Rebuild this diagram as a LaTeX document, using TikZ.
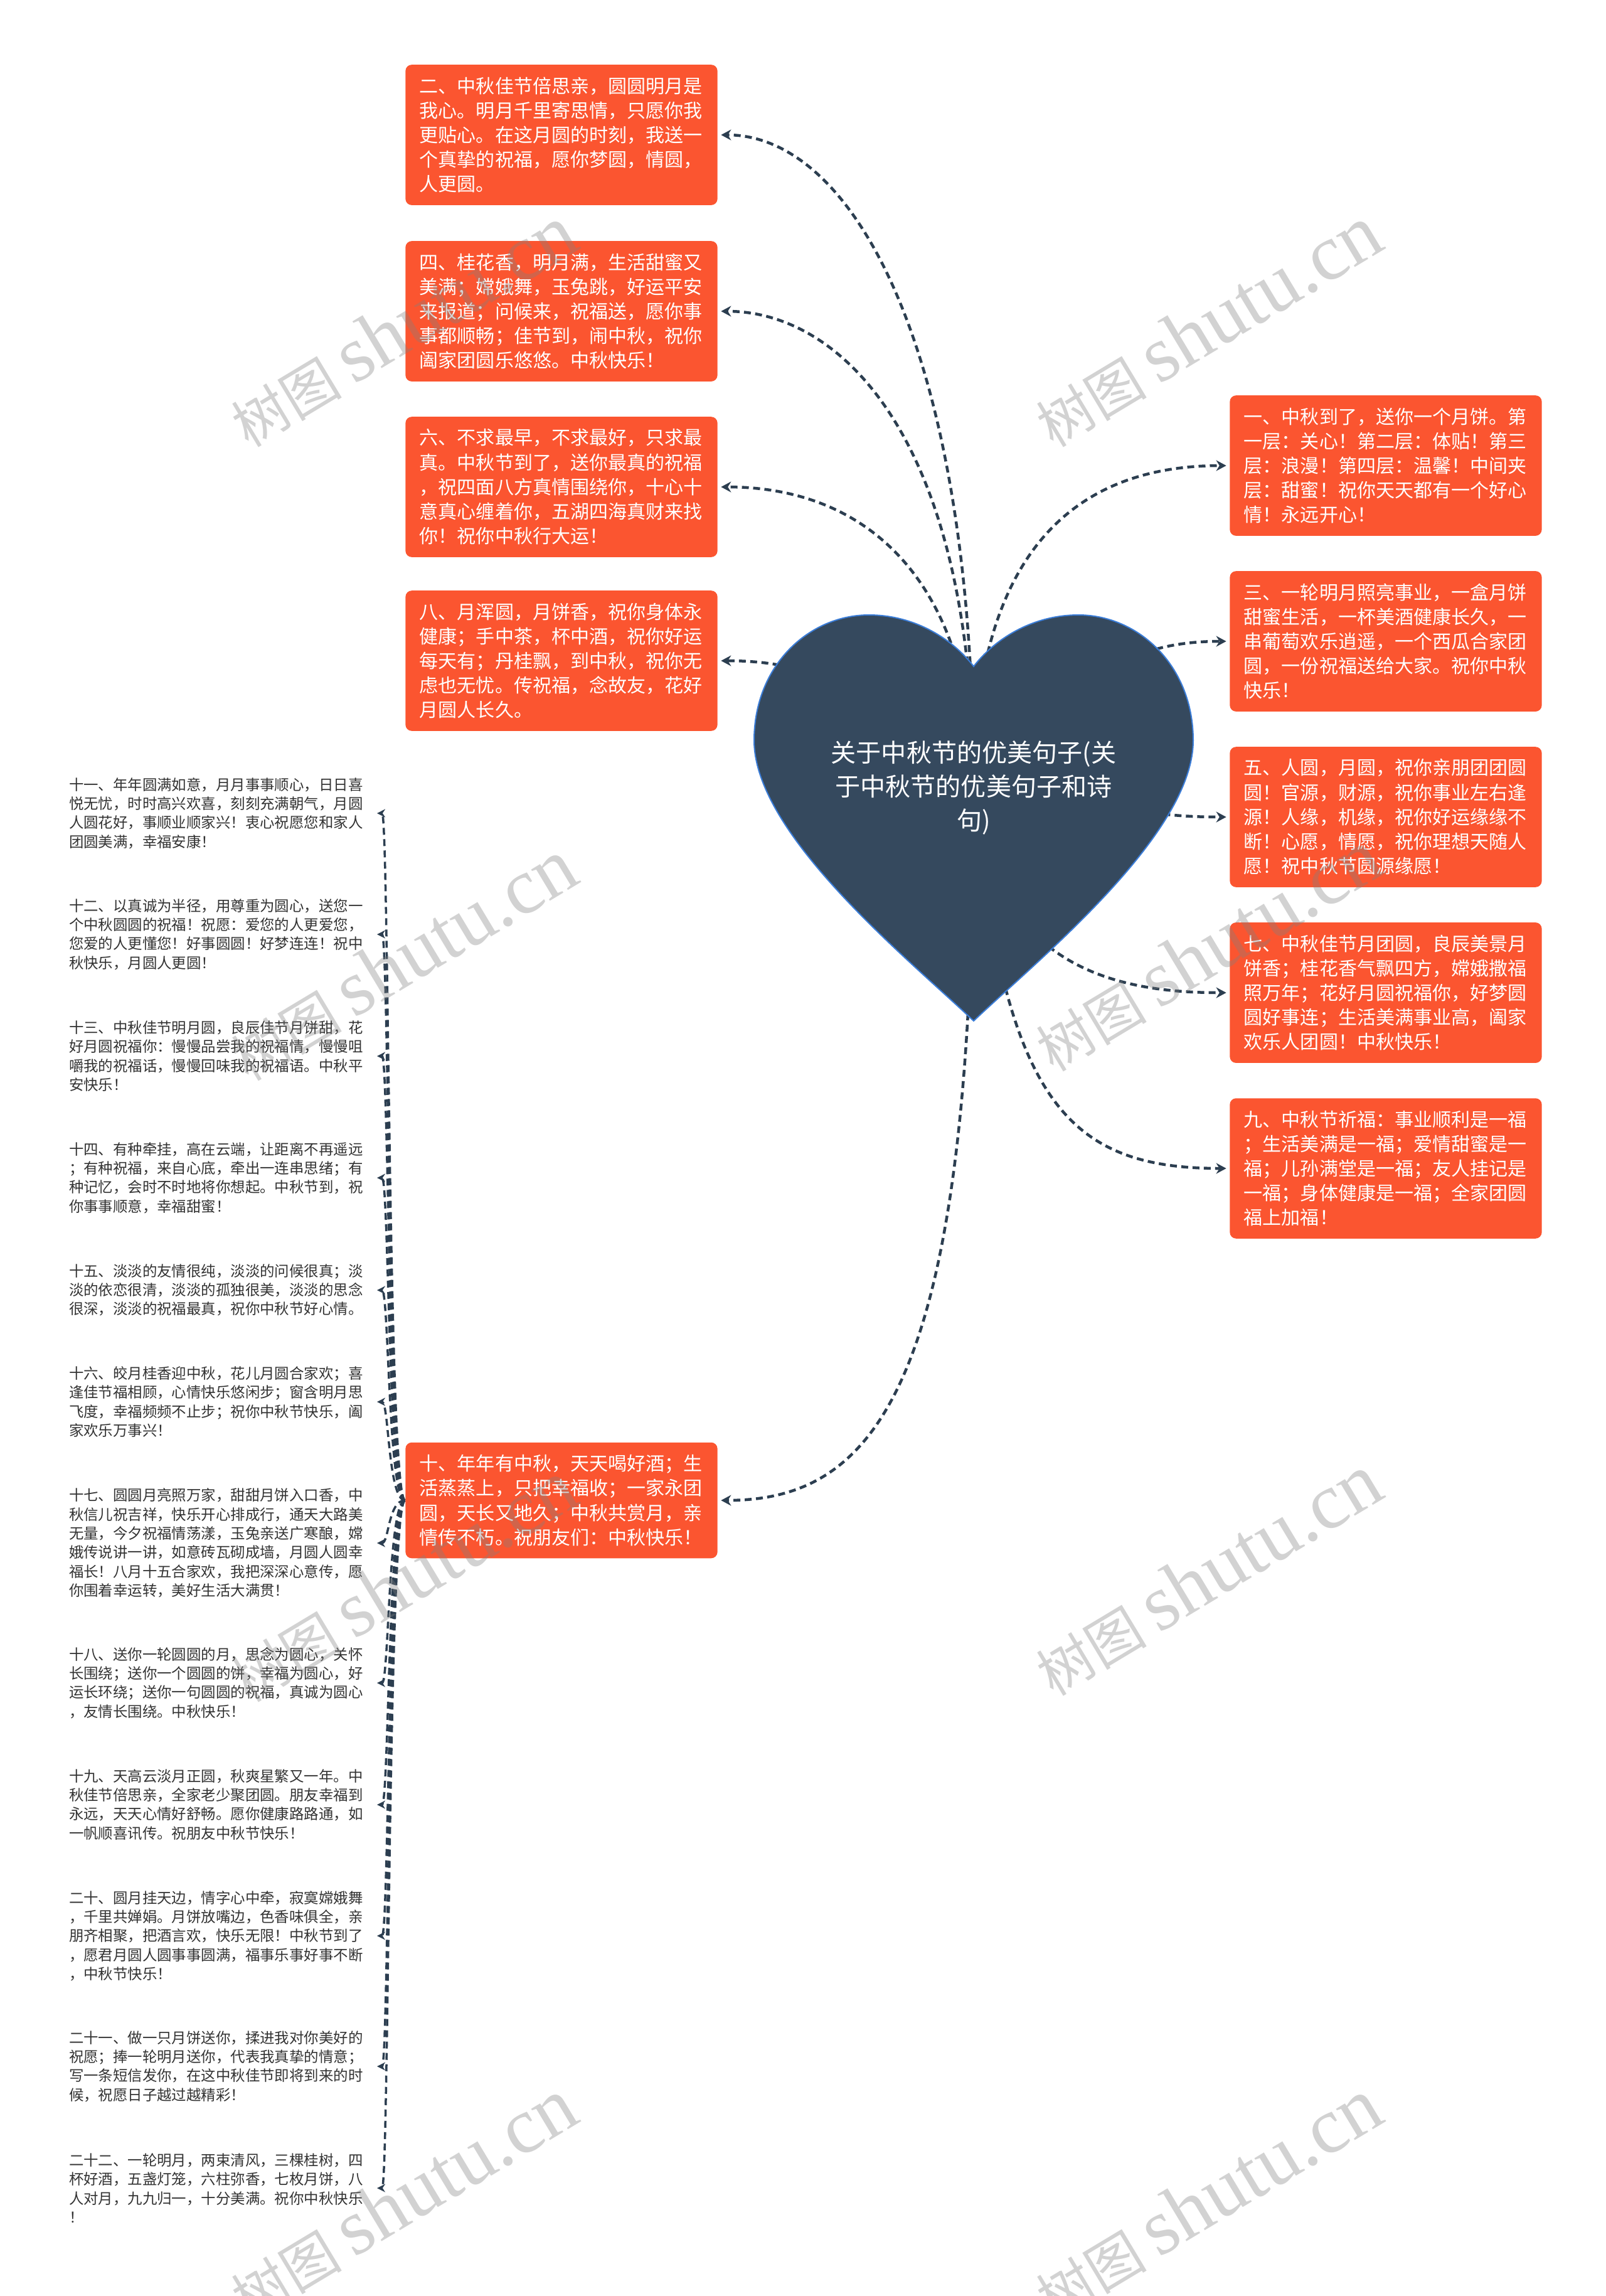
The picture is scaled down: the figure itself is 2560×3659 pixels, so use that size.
\documentclass[tikz,border=0pt]{standalone}
\usepackage{fontspec}
\setmainfont{Noto Sans CJK SC}
\newfontfamily\wmlatin{Liberation Serif}
\usepackage{xcolor}
\usetikzlibrary{arrows.meta}

\definecolor{boxred}{HTML}{FB5530}
\definecolor{slate}{HTML}{35495E}
\definecolor{wire}{HTML}{2C3E50}
\definecolor{heartline}{HTML}{3B7DD8}
\definecolor{leafink}{HTML}{333333}

\pgfdeclarelayer{wires}
\pgfsetlayers{wires,main}

\begin{document}
\begin{tikzpicture}[x=0.01cm, y=-0.01cm,
  wish/.style={fill=boxred, rounded corners=0.1cm, text=white, text width=4.52cm,
    align=left, inner xsep=0.225cm, inner ysep=0.195cm,
    font=\fontsize{8.54pt}{11.15pt}\selectfont},
  leaf/.style={anchor=east, text=leafink, text width=4.70cm, align=left,
    inner xsep=0.15cm, inner ysep=0pt, font=\fontsize{6.66pt}{8.62pt}\selectfont},
  hubtext/.style={text=white, align=center, font=\fontsize{11.4pt}{15.36pt}\selectfont},
  heart/.style={fill=slate, draw=heartline, line width=0.02cm},
  link/.style={draw=wire, line width=0.045cm, dash pattern=on 0.11cm off 0.07cm,
    -{Stealth[length=0.16cm,width=0.17cm]}, shorten >=0.05cm},
  twig/.style={link, line width=0.035cm, -{Stealth[length=0.13cm,width=0.13cm]}},
  wmark/.style={text=gray, opacity=0.35, rotate=31, inner sep=0pt,
    font=\fontsize{25pt}{25pt}\selectfont}]
  \useasboundingbox (0,0) rectangle (2560,3659);

  \node[wish] (b2) at (895,215) {二、中秋佳节倍思亲，圆圆明月是\\我心。明月千里寄思情，只愿你我\\更贴心。在这月圆的时刻，我送一\\个真挚的祝福，愿你梦圆，情圆，\\人更圆。};
  \node[wish] (b4) at (895,496) {四、桂花香，明月满，生活甜蜜又\\美满；嫦娥舞，玉兔跳，好运平安\\来报道；问候来，祝福送，愿你事\\事都顺畅；佳节到，闹中秋，祝你\\阖家团圆乐悠悠。中秋快乐！};
  \node[wish] (b6) at (895,776) {六、不求最早，不求最好，只求最\\真。中秋节到了，送你最真的祝福\\，祝四面八方真情围绕你，十心十\\意真心缠着你，五湖四海真财来找\\你！祝你中秋行大运！};
  \node[wish] (b8) at (895,1053) {八、月浑圆，月饼香，祝你身体永\\健康；手中茶，杯中酒，祝你好运\\每天有；丹桂飘，到中秋，祝你无\\虑也无忧。传祝福，念故友，花好\\月圆人长久。};
  \node[wish] (b10) at (895,2391) {十、年年有中秋，天天喝好酒；生\\活蒸蒸上，只把幸福收；一家永团\\圆，天长又地久；中秋共赏月，亲\\情传不朽。祝朋友们：中秋快乐！};

  \node[wish] (b1) at (2209,742) {一、中秋到了，送你一个月饼。第\\一层：关心！第二层：体贴！第三\\层：浪漫！第四层：温馨！中间夹\\层：甜蜜！祝你天天都有一个好心\\情！永远开心！};
  \node[wish] (b3) at (2209,1022) {三、一轮明月照亮事业，一盒月饼\\甜蜜生活，一杯美酒健康长久，一\\串葡萄欢乐逍遥，一个西瓜合家团\\圆，一份祝福送给大家。祝你中秋\\快乐！};
  \node[wish] (b5) at (2209,1302) {五、人圆，月圆，祝你亲朋团团圆\\圆！官源，财源，祝你事业左右逢\\源！人缘，机缘，祝你好运缘缘不\\断！心愿，情愿，祝你理想天随人\\愿！祝中秋节圆源缘愿！};
  \node[wish] (b7) at (2209,1582) {七、中秋佳节月团圆，良辰美景月\\饼香；桂花香气飘四方，嫦娥撒福\\照万年；花好月圆祝福你，好梦圆\\圆好事连；生活美满事业高，阖家\\欢乐人团圆！中秋快乐！};
  \node[wish] (b9) at (2209,1862) {九、中秋节祈福：事业顺利是一福\\；生活美满是一福；爱情甜蜜是一\\福；儿孙满堂是一福；友人挂记是\\一福；身体健康是一福；全家团圆\\福上加福！};

  \node[leaf] (t11) at (596,1296) {十一、年年圆满如意，月月事事顺心，日日喜\\悦无忧，时时高兴欢喜，刻刻充满朝气，月圆\\人圆花好，事顺业顺家兴！衷心祝愿您和家人\\团圆美满，幸福安康！};
  \node[leaf] (t12) at (596,1489) {十二、以真诚为半径，用尊重为圆心，送您一\\个中秋圆圆的祝福！祝愿：爱您的人更爱您，\\您爱的人更懂您！好事圆圆！好梦连连！祝中\\秋快乐，月圆人更圆！};
  \node[leaf] (t13) at (596,1683) {十三、中秋佳节明月圆，良辰佳节月饼甜，花\\好月圆祝福你：慢慢品尝我的祝福情，慢慢咀\\嚼我的祝福话，慢慢回味我的祝福语。中秋平\\安快乐！};
  \node[leaf] (t14) at (596,1877) {十四、有种牵挂，高在云端，让距离不再遥远\\；有种祝福，来自心底，牵出一连串思绪；有\\种记忆，会时不时地将你想起。中秋节到，祝\\你事事顺意，幸福甜蜜！};
  \node[leaf] (t15) at (596,2056) {十五、淡淡的友情很纯，淡淡的问候很真；淡\\淡的依恋很清，淡淡的孤独很美，淡淡的思念\\很深，淡淡的祝福最真，祝你中秋节好心情。};
  \node[leaf] (t16) at (596,2234) {十六、皎月桂香迎中秋，花儿月圆合家欢；喜\\逢佳节福相顾，心情快乐悠闲步；窗含明月思\\飞度，幸福频频不止步；祝你中秋节快乐，阖\\家欢乐万事兴！};
  \node[leaf] (t17) at (596,2459) {十七、圆圆月亮照万家，甜甜月饼入口香，中\\秋信儿祝吉祥，快乐开心排成行，通天大路美\\无量，今夕祝福情荡漾，玉兔亲送广寒酿，嫦\\娥传说讲一讲，如意砖瓦砌成墙，月圆人圆幸\\福长！八月十五合家欢，我把深深心意传，愿\\你围着幸运转，美好生活大满贯！};
  \node[leaf] (t18) at (596,2682) {十八、送你一轮圆圆的月，思念为圆心，关怀\\长围绕；送你一个圆圆的饼，幸福为圆心，好\\运长环绕；送你一句圆圆的祝福，真诚为圆心\\，友情长围绕。中秋快乐！};
  \node[leaf] (t19) at (596,2876) {十九、天高云淡月正圆，秋爽星繁又一年。中\\秋佳节倍思亲，全家老少聚团圆。朋友幸福到\\永远，天天心情好舒畅。愿你健康路路通，如\\一帆顺喜讯传。祝朋友中秋节快乐！};
  \node[leaf] (t20) at (596,3085) {二十、圆月挂天边，情字心中牵，寂寞嫦娥舞\\，千里共婵娟。月饼放嘴边，色香味俱全，亲\\朋齐相聚，把酒言欢，快乐无限！中秋节到了\\，愿君月圆人圆事事圆满，福事乐事好事不断\\，中秋节快乐！};
  \node[leaf] (t21) at (596,3293) {二十一、做一只月饼送你，揉进我对你美好的\\祝愿；捧一轮明月送你，代表我真挚的情意；\\写一条短信发你，在这中秋佳节即将到来的时\\候，祝愿日子越过越精彩！};
  \node[leaf] (t22) at (596,3487) {二十二、一轮明月，两束清风，三棵桂树，四\\杯好酒，五盏灯笼，六柱弥香，七枚月饼，八\\人对月，九九归一，十分美满。祝你中秋快乐\\！};

  \path[heart] (1552,1627) .. controls (1450,1530) and (1202,1330) .. (1202,1180)
    .. controls (1202,1060) and (1290,980) .. (1385,980)
    .. controls (1460,980) and (1520,1020) .. (1552,1062)
    .. controls (1584,1020) and (1644,980) .. (1719,980)
    .. controls (1814,980) and (1902,1060) .. (1902,1180)
    .. controls (1902,1330) and (1654,1530) .. (1552,1627) -- cycle;
  \node[hubtext] (hub) at (1552,1255) {关于中秋节的优美句子(关\\于中秋节的优美句子和诗\\句)};

  \begin{pgfonlayer}{wires}
    \fill[white] (0,0) rectangle (2560,3659);
    \draw[link] (hub.center) .. controls +(0,-355) and +(-263,0) .. (b1.west);
    \draw[link] (hub.center) .. controls +(0,-695) and +(217,0) .. (b2.east);
    \draw[link] (hub.center) .. controls +(150,0) and +(-300,0) .. (b3.west);
    \draw[link] (hub.center) .. controls +(0,-555) and +(197,0) .. (b4.east);
    \draw[link] (hub.center) .. controls +(200,0) and +(-200,0) .. (b5.west);
    \draw[link] (hub.center) .. controls +(0,-305) and +(257,0) .. (b6.east);
    \draw[link] (hub.center) .. controls +(28,285) and +(-183,0) .. (b7.west);
    \draw[link] (hub.center) .. controls +(-150,0) and +(300,0) .. (b8.east);
    \draw[link] (hub.center) .. controls +(48,495) and +(-263,0) .. (b9.west);
    \draw[link] (hub.center) .. controls +(0,945) and +(257,0) .. (b10.east);
    \foreach \n in {11,...,22}
      \draw[twig] (b10.west) .. controls +(-27,0) and +(24,0) .. (t\n.east);
  \end{pgfonlayer}

  \node[wmark] (wm1) at (642,520) {树图 {\wmlatin\fontsize{36pt}{36pt}\selectfont shutu.cn}};
  \node[wmark] (wm2) at (1925,520) {树图 {\wmlatin\fontsize{36pt}{36pt}\selectfont shutu.cn}};
  \node[wmark] (wm3) at (642,1530) {树图 {\wmlatin\fontsize{36pt}{36pt}\selectfont shutu.cn}};
  \node[wmark] (wm4) at (1925,1515) {树图 {\wmlatin\fontsize{36pt}{36pt}\selectfont shutu.cn}};
  \node[wmark] (wm5) at (642,2520) {树图 {\wmlatin\fontsize{36pt}{36pt}\selectfont shutu.cn}};
  \node[wmark] (wm6) at (1925,2510) {树图 {\wmlatin\fontsize{36pt}{36pt}\selectfont shutu.cn}};
  \node[wmark] (wm7) at (642,3505) {树图 {\wmlatin\fontsize{36pt}{36pt}\selectfont shutu.cn}};
  \node[wmark] (wm8) at (1925,3505) {树图 {\wmlatin\fontsize{36pt}{36pt}\selectfont shutu.cn}};
\end{tikzpicture}
\end{document}
